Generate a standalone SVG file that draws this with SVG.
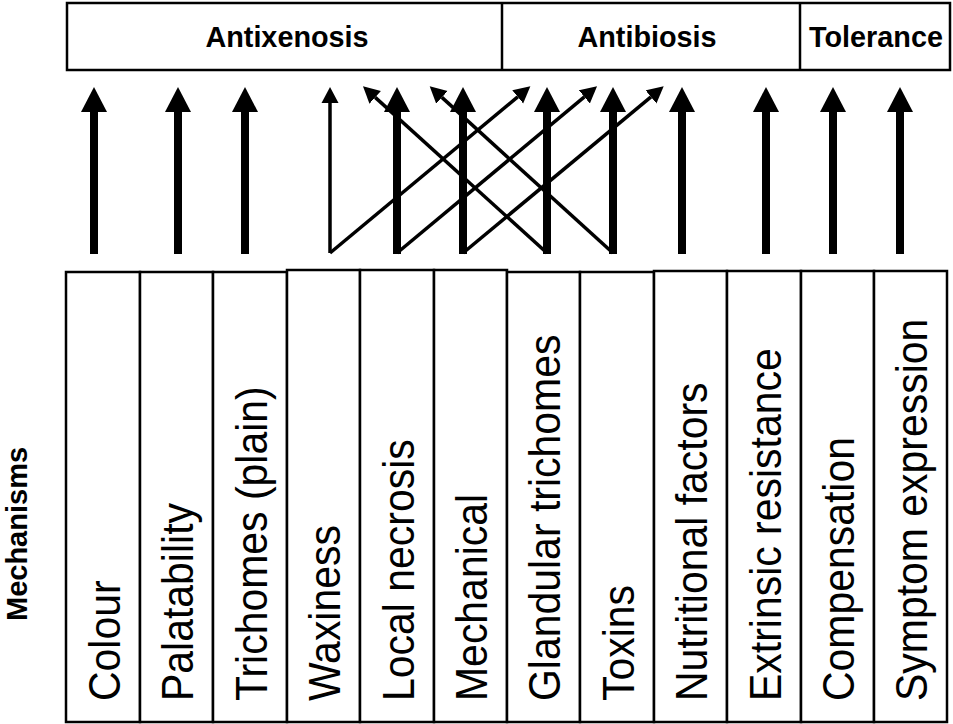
<svg xmlns="http://www.w3.org/2000/svg" width="953" height="724" viewBox="0 0 953 724">
<style>
.box{fill:#fff;stroke:#000;stroke-width:2.5}
.hdr{font-family:"Liberation Sans",Arial,sans-serif;font-weight:bold;font-size:30px;text-anchor:middle;fill:#000}
.lbl{font-family:"Liberation Sans",Arial,sans-serif;font-size:45px;fill:#000}
.thick{stroke:#000;stroke-width:8;fill:none}
.thin{stroke:#000;stroke-width:3.5;fill:none}
.head{fill:#000}
</style>
<defs>
<marker id="th" markerUnits="userSpaceOnUse" markerWidth="18" markerHeight="18" refX="0" refY="8.5" orient="auto" viewBox="0 0 18 18">
<path d="M0,0 L16.5,8.5 L0,17 z" fill="#000"/>
</marker>
</defs>
<rect width="953" height="724" fill="#fff"/>
<g id="categories">
<rect class="box" x="67" y="3" width="883" height="67"/>
<line x1="502" y1="3" x2="502" y2="70" stroke="#000" stroke-width="2.5"/>
<line x1="800" y1="3" x2="800" y2="70" stroke="#000" stroke-width="2.5"/>
</g>
<g id="antixenosis"><text class="hdr" transform="translate(287,47) scale(0.96,1)">Antixenosis</text></g>
<g id="antibiosis"><text class="hdr" transform="translate(647,47) scale(0.96,1)">Antibiosis</text></g>
<g id="tolerance"><text class="hdr" transform="translate(876,47) scale(0.96,1)">Tolerance</text></g>
<g id="mechanisms-label"><text x="27" y="534" transform="rotate(-90 27 534)" font-family="Liberation Sans, Arial, sans-serif" font-weight="bold" font-size="29" text-anchor="middle">Mechanisms</text></g>

<g id="colour"><rect class="box" x="66" y="272" width="74" height="450"/><text class="lbl" transform="translate(119.5,701) rotate(-90) scale(0.91,1)">Colour</text></g>
<g id="palatability"><rect class="box" x="140" y="272" width="73" height="450"/><text class="lbl" transform="translate(193,701) rotate(-90) scale(0.91,1)">Palatability</text></g>
<g id="trichomes-plain"><rect class="box" x="213" y="272" width="74" height="450"/><text class="lbl" transform="translate(266.5,701) rotate(-90) scale(0.91,1)">Trichomes (plain)</text></g>
<g id="waxiness"><rect class="box" x="287" y="270" width="73" height="452"/><text class="lbl" transform="translate(340,701) rotate(-90) scale(0.91,1)">Waxiness</text></g>
<g id="local-necrosis"><rect class="box" x="360" y="270" width="74" height="452"/><text class="lbl" transform="translate(413.5,701) rotate(-90) scale(0.91,1)">Local necrosis</text></g>
<g id="mechanical"><rect class="box" x="434" y="270" width="73" height="452"/><text class="lbl" transform="translate(487,701) rotate(-90) scale(0.91,1)">Mechanical</text></g>
<g id="glandular-trichomes"><rect class="box" x="507" y="272" width="73" height="450"/><text class="lbl" transform="translate(560,701) rotate(-90) scale(0.91,1)">Glandular trichomes</text></g>
<g id="toxins"><rect class="box" x="580" y="272" width="74" height="450"/><text class="lbl" transform="translate(633.5,701) rotate(-90) scale(0.91,1)">Toxins</text></g>
<g id="nutritional-factors"><rect class="box" x="654" y="271" width="73" height="451"/><text class="lbl" transform="translate(707,701) rotate(-90) scale(0.91,1)">Nutritional factors</text></g>
<g id="extrinsic-resistance"><rect class="box" x="727" y="271" width="74" height="451"/><text class="lbl" transform="translate(780.5,701) rotate(-90) scale(0.91,1)">Extrinsic resistance</text></g>
<g id="compensation"><rect class="box" x="801" y="271" width="73" height="451"/><text class="lbl" transform="translate(854,701) rotate(-90) scale(0.91,1)">Compensation</text></g>
<g id="symptom-expression"><rect class="box" x="874" y="271" width="73" height="451"/><text class="lbl" transform="translate(927,701) rotate(-90) scale(0.91,1)">Symptom expression</text></g>

<g id="connectors">
<line class="thick" x1="94" y1="254" x2="94" y2="111"/><polygon class="head" points="81,112 94,87 107,112"/>
<line class="thick" x1="178" y1="254" x2="178" y2="111"/><polygon class="head" points="165,112 178,87 191,112"/>
<line class="thick" x1="245" y1="254" x2="245" y2="111"/><polygon class="head" points="232,112 245,87 258,112"/>
<line class="thin" x1="330" y1="253" x2="330" y2="102"/><polygon class="head" points="321.5,103 330,87 338.5,103"/>
<line class="thick" x1="397" y1="254" x2="397" y2="111"/><polygon class="head" points="384,112 397,87 410,112"/>
<line class="thick" x1="463" y1="254" x2="463" y2="111"/><polygon class="head" points="450,112 463,87 476,112"/>
<line class="thick" x1="547" y1="254" x2="547" y2="111"/><polygon class="head" points="534,112 547,87 560,112"/>
<line class="thick" x1="613" y1="254" x2="613" y2="111"/><polygon class="head" points="600,112 613,87 626,112"/>
<line class="thick" x1="682" y1="254" x2="682" y2="111"/><polygon class="head" points="669,112 682,87 695,112"/>
<line class="thick" x1="766" y1="254" x2="766" y2="111"/><polygon class="head" points="753,112 766,87 779,112"/>
<line class="thick" x1="833" y1="254" x2="833" y2="111"/><polygon class="head" points="820,112 833,87 846,112"/>
<line class="thick" x1="900" y1="254" x2="900" y2="111"/><polygon class="head" points="887,112 900,87 913,112"/>
<line class="thin" x1="330" y1="253" x2="517.7" y2="96.9" marker-end="url(#th)"/>
<line class="thin" x1="397" y1="253" x2="584.4" y2="96.9" marker-end="url(#th)"/>
<line class="thin" x1="463" y1="253" x2="651" y2="96.9" marker-end="url(#th)"/>
<line class="thin" x1="547" y1="253" x2="375.2" y2="97.4" marker-end="url(#th)"/>
<line class="thin" x1="613" y1="253" x2="441.9" y2="97.4" marker-end="url(#th)"/>
</g>
</svg>
